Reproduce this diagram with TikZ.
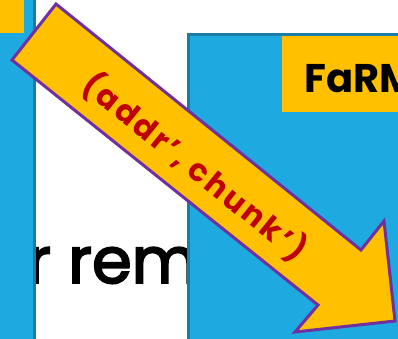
\documentclass[tikz,border=0pt]{standalone}
\usepackage{fontspec}
\setmainfont{Poppins}
\newfontfamily\bgfont{Poppins}[FakeBold=3]
\newfontfamily\arrowfont{Poppins}[LetterSpace=9]
\definecolor{slideblue}{RGB}{30,169,224}
\definecolor{darkblue}{RGB}{26,125,168}
\definecolor{gold}{RGB}{255,192,0}
\definecolor{purp}{RGB}{112,48,160}
\definecolor{darkred}{RGB}{192,0,0}
\tikzset{
  panel/.style={fill=slideblue},
  paneledge/.style={draw=darkblue,line width=3pt},
  labelbox/.style={fill=gold},
  bigarrow/.style={fill=gold,draw=purp,line width=3pt,line join=miter},
}
\begin{document}
\begin{tikzpicture}[x=1pt,y=-1pt]
\useasboundingbox (0,0) rectangle (398,338);
\fill[white] (0,0) rectangle (398,338);
% background text
\node[anchor=base west,inner sep=0pt,font=\bgfont\fontsize{64}{64}\selectfont] (bgtext) at (27,283) {r rem};
% left panel
\fill[panel] (-5,-5) rectangle (34.5,345);
\draw[paneledge] (34.5,-5) -- (34.5,345);
\fill[labelbox] (-5,-5) rectangle (24,33);
% right panel
\fill[panel] (188.5,34.5) rectangle (405,345);
\draw[paneledge] (188.5,345) -- (188.5,34.5) -- (405,34.5);
\fill[labelbox] (282,36) rectangle (405,112);
\node[anchor=base west,inner sep=0pt,font=\fontsize{40}{40}\selectfont\bfseries] (farm) at (304,92) {FaRM};
% arrow
\filldraw[bigarrow] (56,4) -- (361,250) -- (384,221) -- (395,321) -- (295,332) -- (318,305) -- (12,60) -- cycle;
\node[rotate=-39,inner sep=0pt,text=darkred,font=\arrowfont\fontsize{31}{31}\selectfont\bfseries] (lbl) at (195,167) {(addr’, chunk’)};
\end{tikzpicture}
\end{document}
